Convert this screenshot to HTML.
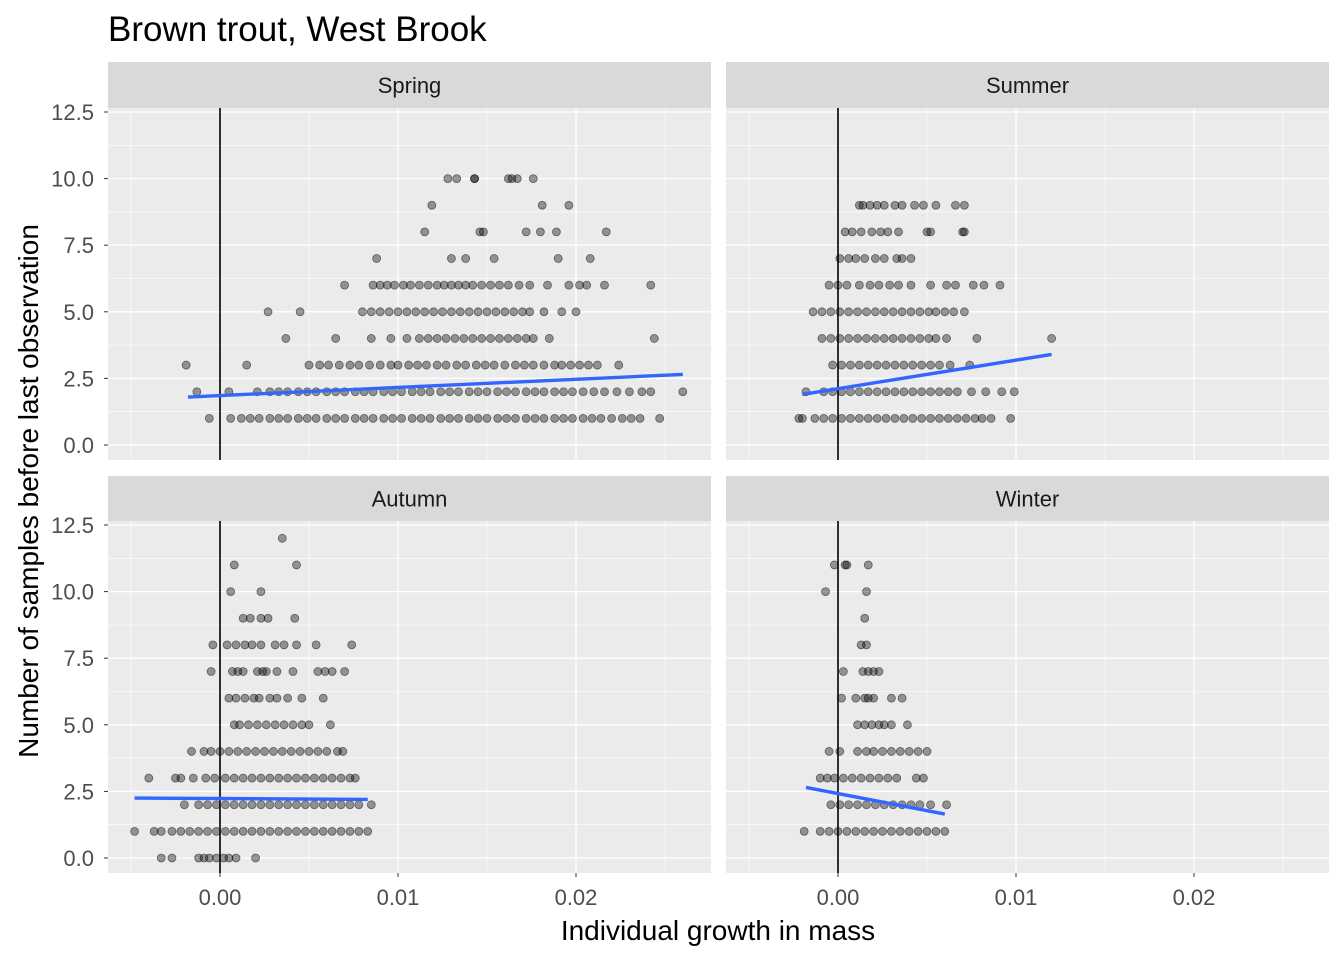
<!DOCTYPE html>
<html><head><meta charset="utf-8"><style>
body{margin:0;background:#fff;}
svg{display:block;font-family:"Liberation Sans",sans-serif;}
</style></head><body>
<svg id="chart" width="1344" height="960" viewBox="0 0 1344 960"></svg>
<script>
// data: x in thousandths of growth, rows grouped by sample count
const panelNames = ["Spring","Summer","Autumn","Winter"];
const springRows = [
 [1,[-0.6,0.6,1.2,1.7,2.2,2.8,3.3,3.8,4.4,4.9,5.4,6,6.5,7,7.6,8.1,8.6,9.2,9.7,10.2,10.8,11.3,11.8,12.4,12.9,13.4,14,14.5,15,15.6,16.1,16.6,17.2,17.7,18.2,18.8,19.3,19.8,20.4,20.9,21.4,22,22.6,23.1,23.6,24.7]],
 [2,[-1.3,0.5,2.1,2.8,3.3,3.8,4.4,4.9,5.4,6,6.5,7,7.6,8.1,8.6,9.2,9.7,10.2,10.8,11.3,11.8,12.4,12.9,13.4,14,14.5,15,15.6,16.1,16.6,17.2,17.7,18.2,18.8,19.3,19.8,20.4,21,21.6,22.3,23,23.7,24.2,26.0]],
 [3,[-1.9,1.5,5,5.6,6.1,6.7,7.3,7.8,8.4,9,9.6,10,10.6,11.1,11.6,12.2,12.7,13.3,13.8,14.4,14.9,15.4,16,16.6,17.1,17.6,18.2,18.8,19.2,19.7,20.2,20.7,21.2,22.4]],
 [4,[3.7,6.5,8.5,9.6,10.5,11.2,11.7,12.2,12.7,13.2,13.7,14.2,14.7,15.2,15.7,16.2,16.7,17.2,17.6,18.5,24.4]],
 [5,[2.7,4.5,8,8.5,9,9.5,10,10.5,11,11.5,12,12.5,13,13.5,14,14.5,15,15.5,16,16.5,17,17.4,18.2,19.2,20]],
 [6,[7,8.6,9,9.4,9.8,10.3,10.7,11.2,11.7,12.2,12.6,13,13.4,13.8,14.2,14.7,15.2,15.7,16.2,16.8,17.4,18.4,19.6,20.2,20.6,21.6,24.2]],
 [7,[8.8,13,13.8,15.4,19,20.8]],
 [8,[11.5,14.6,14.8,17.2,18,18.9,21.7]],
 [9,[11.9,18.1,19.6]],
 [10,[12.8,13.3,14.3,14.3,16.2,16.4,16.7,17.6]]
];
const summerRows = [
 [1,[-2.2,-2,-1.3,-0.8,-0.3,0.2,0.7,1.2,1.7,2.2,2.7,3.2,3.7,4.2,4.7,5.2,5.7,6.2,6.7,7.2,7.7,8.1,8.6,9.7]],
 [2,[-1.8,-0.8,-0.3,0.2,0.7,1.2,1.7,2.2,2.7,3.2,3.7,4.2,4.7,5.2,5.7,6.2,6.7,7.5,8.3,9.2,9.9]],
 [3,[-0.3,0.2,0.7,1.2,1.7,2.2,2.7,3.2,3.7,4.2,4.7,5.2,5.7,6.3,7.4]],
 [4,[-0.9,-0.4,0.1,0.6,1.1,1.6,2.1,2.6,3.1,3.6,4.1,4.6,5.1,5.5,6.1,7.8,12.0]],
 [5,[-1.4,-0.9,-0.4,0.1,0.6,1.1,1.6,2.1,2.6,3.1,3.6,4.1,4.6,5.1,5.5,6,6.5,7.1]],
 [6,[-0.5,0,0.5,1.2,1.8,2.3,2.9,3.4,4.1,5.2,6.1,6.6,7.6,8.2,9.1]],
 [7,[0.1,0.6,1,1.5,2.1,2.6,3.3,3.6,4.1]],
 [8,[0.4,0.8,1.3,1.9,2.4,2.8,3.4,5,5.2,7,7.1]],
 [9,[1.2,1.4,1.8,2.2,2.6,3.2,3.6,4.3,4.8,5.5,6.6,7.1]]
];
const autumnRows = [
 [0,[-3.3,-2.7,-1.2,-0.9,-0.6,-0.2,0.2,0.5,0.9,2]],
 [1,[-4.8,-3.7,-3.3,-2.7,-2.2,-1.7,-1.2,-0.7,-0.2,0.3,0.8,1.3,1.8,2.3,2.8,3.3,3.8,4.3,4.8,5.3,5.8,6.3,6.8,7.3,7.8,8.3]],
 [2,[-2,-1.2,-0.7,-0.2,0.3,0.8,1.3,1.8,2.3,2.8,3.3,3.8,4.3,4.8,5.3,5.8,6.3,6.8,7.3,7.8,8.5]],
 [3,[-4,-2.5,-2.2,-1.5,-0.8,-0.3,0.3,0.8,1.3,1.8,2.3,2.8,3.3,3.8,4.3,4.8,5.3,5.8,6.3,6.8,7.3,7.6]],
 [4,[-1.6,-0.9,-0.5,0,0.5,1,1.5,2,2.5,3,3.5,4,4.5,5,5.5,6,6.6,6.9]],
 [5,[0.8,1.1,1.6,2.1,2.6,3.1,3.6,4.1,4.6,5,6.2]],
 [6,[0.5,0.9,1.4,1.9,2.2,2.8,3.2,3.8,4.6,5.8]],
 [7,[-0.5,0.7,1,1.3,2.1,2.4,2.6,3.2,4.1,5.5,5.9,6.3,7]],
 [8,[-0.4,0.4,0.9,1.4,1.8,2.3,3.1,3.6,4.3,5.4,7.4]],
 [9,[1.3,1.7,2.3,2.7,4.2]],
 [10,[0.6,2.3]],
 [11,[0.8,4.3]],
 [12,[3.5]]
];
const winterRows = [
 [1,[-1.9,-1,-0.5,0,0.5,1,1.5,2,2.5,3,3.5,4,4.5,5,5.5,6]],
 [2,[-0.4,0.1,0.6,1.1,1.6,2.1,2.6,3.1,3.6,4.1,4.6,5.2,6.1]],
 [3,[-1,-0.6,-0.2,0.3,0.8,1.3,1.8,2.3,2.8,3.3,4.4,4.8]],
 [4,[-0.5,0.1,1.1,1.6,2,2.5,3,3.5,4,4.5,5]],
 [5,[1.1,1.5,1.9,2.3,2.6,3,3.9]],
 [6,[0.2,1,1.5,1.7,2,3,3.6]],
 [7,[0.3,1.4,1.7,2,2.3]],
 [8,[1.3,1.6]],
 [9,[1.5]],
 [10,[-0.7,1.6]],
 [11,[-0.2,0.4,0.5,1.7]]
];
// fit lines: [x0, y0, x1, y1] (x in thousandths)
const springFit = [-1.8,1.8,26,2.65];
const summerFit = [-2,1.9,12,3.4];
const autumnFit = [-4.8,2.25,8.3,2.2];
const winterFit = [-1.8,2.65,6,1.65];
const xTicks = [0,0.01,0.02];
const xTickLabels = ["0.00","0.01","0.02"];
const yTicks = [0,2.5,5,7.5,10,12.5];
const yTickLabels = ["0.0","2.5","5.0","7.5","10.0","12.5"];

const NS="http://www.w3.org/2000/svg";
const svg=document.getElementById('chart');
function mk(tag,attrs,parent){const e=document.createElementNS(NS,tag);for(const k in attrs)e.setAttribute(k,attrs[k]);(parent||svg).appendChild(e);return e;}

const panels=[
 {name:panelNames[0],rows:springRows,fit:springFit,left:108,right:711,top:108,bottom:460,stripTop:62,x0:220,y0:445,showY:true,showX:false},
 {name:panelNames[1],rows:summerRows,fit:summerFit,left:726,right:1329,top:108,bottom:460,stripTop:62,x0:838,y0:445,showY:false,showX:false},
 {name:panelNames[2],rows:autumnRows,fit:autumnFit,left:108,right:711,top:521,bottom:873,stripTop:476,x0:220,y0:858,showY:true,showX:true},
 {name:panelNames[3],rows:winterRows,fit:winterFit,left:726,right:1329,top:521,bottom:873,stripTop:476,x0:838,y0:858,showY:false,showX:true}
];
const XS=17800, YS=26.64;
panels.forEach(p=>{
 const slug=p.name.toLowerCase();
 const g=mk('g',{});
 
 
 const xs=v=>p.x0+v*XS, ys=v=>p.y0-v*YS;
 mk('rect',{x:p.left,y:p.top,width:p.right-p.left,height:p.bottom-p.top,fill:'#EBEBEB'},g);
 for(let v=-0.005;v<0.03;v+=0.01){const x=xs(v);if(x>p.left&&x<p.right)mk('line',{x1:x,x2:x,y1:p.top,y2:p.bottom,stroke:'#fff','stroke-width':0.6},g);}
 for(let v=1.25;v<13;v+=2.5){const y=ys(v);if(y>p.top)mk('line',{x1:p.left,x2:p.right,y1:y,y2:y,stroke:'#fff','stroke-width':0.6},g);}
 xTicks.forEach(v=>mk('line',{x1:xs(v),x2:xs(v),y1:p.top,y2:p.bottom,stroke:'#fff','stroke-width':1.3},g));
 yTicks.forEach(v=>mk('line',{x1:p.left,x2:p.right,y1:ys(v),y2:ys(v),stroke:'#fff','stroke-width':1.3},g));
 const st=mk('rect',{x:p.left,y:p.stripTop,width:p.right-p.left,height:p.top-p.stripTop,fill:'#D9D9D9'},g);
 
 
 const stt=mk('text',{x:(p.left+p.right)/2,y:(p.stripTop+p.top)/2+8,'text-anchor':'middle','font-size':'22','fill':'#1A1A1A'},g);
 stt.textContent=p.name;
 
 
 mk('line',{x1:xs(0),x2:xs(0),y1:p.top,y2:p.bottom,stroke:'#000','stroke-width':1.6},g);
 p.rows.forEach(r=>{
  r[1].forEach(v=>{
   const c=mk('circle',{cx:xs(v/1000),cy:ys(r[0]),r:4,fill:'rgba(0,0,0,0.38)',stroke:'rgba(0,0,0,0.5)','stroke-width':0.8},g);
   
   
  });
 });
 const f=p.fit;
 const fl=mk('line',{x1:xs(f[0]/1000),y1:ys(f[1]),x2:xs(f[2]/1000),y2:ys(f[3]),stroke:'#3366FF','stroke-width':3.4},g);
 
 
 if(p.showY){
  yTicks.forEach((v,i)=>{
   mk('line',{x1:p.left-4,x2:p.left,y1:ys(v),y2:ys(v),stroke:'#333','stroke-width':1},g);
   const t=mk('text',{x:p.left-14,y:ys(v)+8,'text-anchor':'end','font-size':'22','fill':'#4D4D4D'},g);
   t.textContent=yTickLabels[i];
   
   
  });
 }
 if(p.showX){
  xTicks.forEach((v,i)=>{
   mk('line',{x1:xs(v),x2:xs(v),y1:p.bottom,y2:p.bottom+4,stroke:'#333','stroke-width':1},g);
   const t=mk('text',{x:xs(v),y:p.bottom+32,'text-anchor':'middle','font-size':'22','fill':'#4D4D4D'},g);
   t.textContent=xTickLabels[i];
   
   
  });
 }
});
</script>
<script>
(function(){
 const NS="http://www.w3.org/2000/svg";const svg=document.getElementById('chart');
 const t=document.createElementNS(NS,'text');t.setAttribute('x',108);t.setAttribute('y',41);t.setAttribute('font-size','35');t.setAttribute('fill','#000');t.textContent='Brown trout, West Brook';
 
 
 svg.appendChild(t);
 const xt=document.createElementNS(NS,'text');xt.setAttribute('x',718);xt.setAttribute('y',940);xt.setAttribute('text-anchor','middle');xt.setAttribute('font-size','28');xt.textContent='Individual growth in mass';
 
 
 svg.appendChild(xt);
 const yt=document.createElementNS(NS,'text');yt.setAttribute('transform','translate(38,491) rotate(-90)');yt.setAttribute('text-anchor','middle');yt.setAttribute('font-size','28');yt.textContent='Number of samples before last observation';
 
 
 svg.appendChild(yt);
})();
</script>
</body></html>
